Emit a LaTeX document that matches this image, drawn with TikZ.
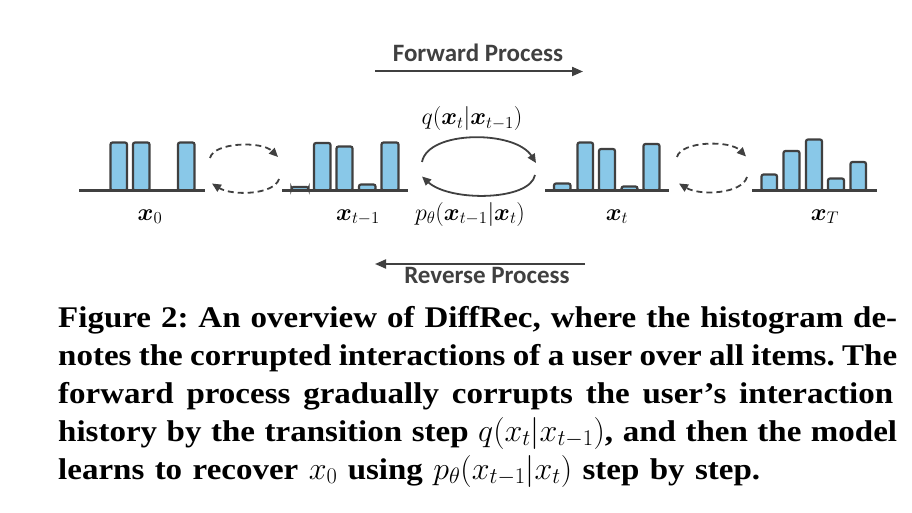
\RequirePackage{fix-cm}
\documentclass[tikz,border=0pt]{standalone}
\usepackage{amsmath,bm}
\usepackage{fontspec}
\setmainfont{Liberation Serif}
\newfontfamily\capfont{Liberation Serif}[FakeStretch=1.10,Ligatures=TeX]
\newfontfamily\calibrifont{Carlito}
\usetikzlibrary{arrows.meta}
\definecolor{barblue}{HTML}{89C8E8}
\definecolor{ink}{HTML}{404040}
\tikzset{
  histbar/.style={draw=ink, fill=barblue, line width=2.2pt, rounded corners=2pt},
  axisline/.style={draw=ink, line width=2.6pt},
  dasharc/.style={draw=ink, line width=1.8pt, dash pattern=on 6pt off 4pt, -{Triangle[length=9pt,width=8pt]}},
  solidarc/.style={draw=ink, line width=1.8pt, -{Triangle[length=9pt,width=8pt]}},
  procarrow/.style={draw=ink, line width=2pt, -{Triangle[length=11pt,width=9pt]}},
  proclabel/.style={text=ink, font=\calibrifont\bfseries\fontsize{25}{30}\selectfont, anchor=base, inner sep=0pt},
  mathlabel/.style={font=\fontsize{24}{28}\selectfont, anchor=base, inner sep=0pt},
  capline/.style={anchor=base west, inner sep=0pt, font=\capfont\bfseries\fontsize{30}{36}\selectfont\frenchspacing}
}
\newcommand\drawbar[3]{\draw[histbar] (#1,190.5) rectangle (#2,#3);}
\newcommand\capmath[1]{{\fontsize{32}{36}\selectfont$#1$}}
\begin{document}
\begin{tikzpicture}[x=1pt,y=-1pt]
\useasboundingbox (0,0) rectangle (912,513);

% process arrows
\coordinate (fwdA) at (375,71.5);
\coordinate (fwdB) at (583,71.5);
\draw[procarrow] (fwdA) -- (fwdB);
\node[proclabel] (fwd) at (478,62) {Forward Process};
\coordinate (revA) at (585,264);
\coordinate (revB) at (375,264);
\draw[procarrow] (revA) -- (revB);
\node[proclabel] (rev) at (487,283) {Reverse Process};

% histogram x0
\drawbar{110.5}{127}{142.5}
\drawbar{133}{149.5}{142.5}
\drawbar{178}{194.5}{142.5}
\draw[axisline] (79,190.5) -- (205,190.5);
% histogram x_{t-1}
\drawbar{291.5}{308.5}{187}
\drawbar{314}{330.5}{143}
\drawbar{336.5}{352.5}{146.5}
\drawbar{359}{375.5}{184.5}
\drawbar{381.5}{398.5}{142.5}
\draw[axisline] (282,190.5) -- (408,190.5);
% histogram x_t
\drawbar{554}{570.5}{183.5}
\drawbar{577.5}{593}{142.5}
\drawbar{599}{615}{149}
\drawbar{621.5}{637.5}{186.5}
\drawbar{643.5}{659.5}{144}
\draw[axisline] (545,190.5) -- (669,190.5);
% histogram x_T
\drawbar{761.5}{777}{174.5}
\drawbar{783.5}{799.5}{151}
\drawbar{806}{822}{139.5}
\drawbar{828}{844}{178.5}
\drawbar{850.5}{866}{162}
\draw[axisline] (752,190.5) -- (877,190.5);

% state labels
\node[mathlabel] (x0) at (150,220) {$\boldsymbol{x}_0$};
\node[mathlabel] (xtm) at (358,220) {$\boldsymbol{x}_{t-1}$};
\node[mathlabel] (xt) at (617,220) {$\boldsymbol{x}_t$};
\node[mathlabel] (xT) at (825,220) {$\boldsymbol{x}_T$};
\node[mathlabel] (qlab) at (472,125) {$q(\boldsymbol{x}_t|\boldsymbol{x}_{t-1})$};
\node[mathlabel] (plab) at (470,220) {$p_\theta(\boldsymbol{x}_{t-1}|\boldsymbol{x}_t)$};

% dashed arcs x0 <-> x_{t-1}
\coordinate (d1a) at (210,158);
\coordinate (d1b) at (278,157);
\coordinate (d1c) at (279,179);
\coordinate (d1d) at (212,183.5);
\draw[dasharc] (d1a) .. controls (214,142) and (262,141) .. (d1b);
\draw[dasharc] (d1c) .. controls (274,195) and (232,196) .. (d1d);
% solid arcs x_{t-1} <-> x_t
\coordinate (s1a) at (422,162);
\coordinate (s1b) at (536,163);
\coordinate (s1c) at (535,175);
\coordinate (s1d) at (422,176.5);
\draw[solidarc] (s1a) .. controls (428,130) and (515,130) .. (s1b);
\draw[solidarc] (s1c) .. controls (530,201) and (450,202) .. (s1d);
% dashed arcs x_t <-> x_T
\coordinate (d2a) at (677,157);
\coordinate (d2b) at (746,156.5);
\coordinate (d2c) at (747,177);
\coordinate (d2d) at (679,183.5);
\draw[dasharc] (d2a) .. controls (681,141) and (730,140) .. (d2b);
\draw[dasharc] (d2c) .. controls (742,194) and (700,196) .. (d2d);

% caption
\node[capline] (cap1) at (58,327) {\hbox to 839pt{Figure 2: An overview of DiffRec, where the histogram de-}};
\node[capline] (cap2) at (58,365) {\hbox to 839pt{notes the corrupted interactions of a user over all items. The}};
\node[capline] (cap3) at (58,403) {\hbox to 835pt{forward process gradually corrupts the user’s interaction}};
\node[capline] (cap4) at (58,441) {\hbox to 839pt{history by the transition step \capmath{q(x_t|x_{t-1})}, and then the model}};
\node[capline] (cap5) at (58,479) {\hbox to 702pt{learns to recover \capmath{x_0} using \capmath{p_\theta(x_{t-1}|x_t)} step by step.}};
\end{tikzpicture}
\end{document}
